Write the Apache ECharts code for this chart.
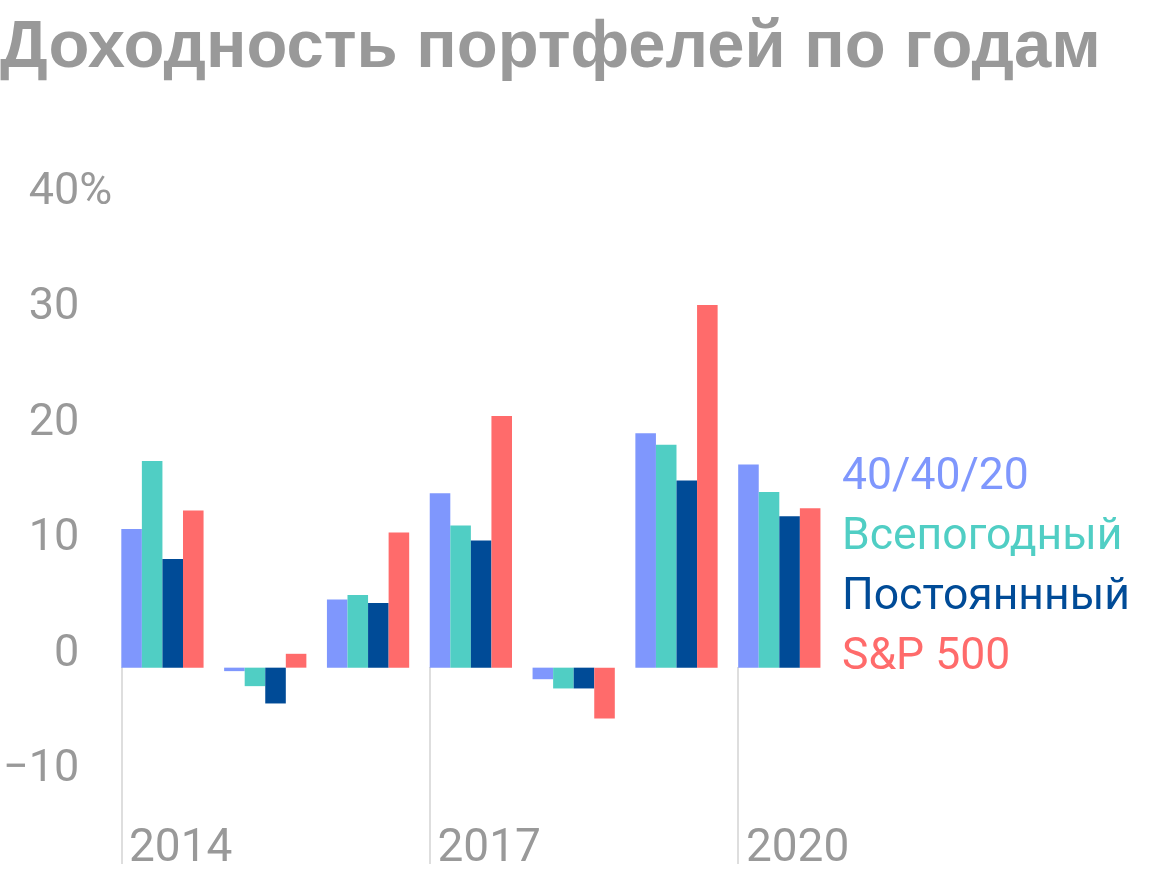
<!DOCTYPE html>
<html>
<head>
<meta charset="utf-8">
<script src="https://cdn.jsdelivr.net/npm/echarts@6/dist/echarts.min.js"></script>
<style>
  html, body { margin: 0; padding: 0; background: #fff; }
  #chart { width: 1160px; height: 880px; }
</style>
</head>
<body>
<div id="chart"></div>
<script>
// данные: доходность по годам, %
var years = ['2014', '2015', '2016', '2017', '2018', '2019', '2020'];
var p404020 = [12.0, -0.3, 5.9, 15.1, -1.0, 20.3, 17.6];
var allWeather = [17.9, -1.6, 6.3, 12.3, -1.8, 19.3, 15.2];
var permanent = [9.4, -3.1, 5.6, 11.0, -1.8, 16.2, 13.1];
var sp500 = [13.6, 1.2, 11.7, 21.8, -4.4, 31.4, 13.8];
var yTicks = [-10, 0, 10, 20, 30, 40];

var names = ['40/40/20', 'Всепогодный', 'Постояннный', 'S&P 500'];
var colors = ['#7f97fd', '#50cec4', '#004b97', '#ff6b6b'];
var values = [p404020, allWeather, permanent, sp500];

var font = 'Roboto';
var gray = '#999999';

// подписи и линии только у каждого третьего года
var showYear = function (index) { return index % 3 === 0; };
var yearMarks = years.map(function (y, i) { return i; }).filter(showYear);

var series = names.map(function (n, i) {
    return {
        name: n,
        type: 'bar',
        data: values[i],
        barGap: '0%',
        barCategoryGap: '0%',
        itemStyle: { color: colors[i] }
    };
});
// пустой столбец-отступ, чтобы группа начиналась у линии года
series.push({
    name: 'spacer',
    type: 'bar',
    data: years.map(function () { return null; }),
    barGap: '0%',
    barCategoryGap: '0%'
});

var option = {
    animation: false,
    title: {
        text: 'Доходность портфелей по годам',
        left: 0,
        top: 15,
        padding: 0,
        textStyle: {
            fontFamily: 'Liberation Sans',
            fontWeight: 'bold',
            fontSize: 67,
            color: gray
        }
    },
    legend: {
        orient: 'vertical',
        left: 837,
        top: 448,
        padding: 0,
        itemGap: 0,
        itemWidth: 0,
        itemHeight: 0,
        icon: 'rect',
        selectedMode: false,
        data: names.map(function (n, i) {
            return { name: n, textStyle: { color: colors[i] } };
        }),
        textStyle: { fontFamily: font, fontSize: 44.5, lineHeight: 60 }
    },
    grid: {
        left: 120,
        width: 721,
        top: 205.7,
        bottom: 16
    },
    xAxis: [{
        type: 'category',
        data: years,
        axisLine: { show: false, onZero: false },
        axisTick: { show: false },
        axisLabel: {
            inside: true,
            interval: showYear,
            margin: 0,
            color: gray,
            fontFamily: font,
            fontSize: 46,
            lineHeight: 30,
            padding: [0, 0, 0, 16]
        },
        splitLine: { show: false }
    }, {
        // вспомогательная ось для вертикальных линий у годов
        type: 'value',
        min: 0,
        max: years.length,
        position: 'bottom',
        axisLine: { show: false, onZero: false },
        axisLabel: { show: false },
        splitLine: { show: false },
        axisTick: {
            show: true,
            inside: true,
            customValues: yearMarks,
            length: 197,
            lineStyle: { color: '#dedede', width: 2 }
        }
    }],
    yAxis: [{
        type: 'value',
        min: -17,
        max: 40,
        axisLine: { show: false },
        axisTick: { show: false },
        splitLine: { show: false },
        axisLabel: {
            customValues: yTicks,
            margin: 42,
            color: gray,
            fontFamily: font,
            fontSize: 45,
            lineHeight: 26,
            verticalAlign: 'bottom',
            formatter: function (v) {
                return v < 0 ? '\u2212' + Math.abs(v) : String(v);
            }
        }
    }, {
        type: 'value',
        min: -17,
        max: 40,
        position: 'left',
        axisLine: { show: false },
        axisTick: { show: false },
        splitLine: { show: false },
        axisLabel: {
            customValues: [40],
            margin: 42,
            align: 'left',
            color: gray,
            fontFamily: font,
            fontSize: 45,
            lineHeight: 26,
            verticalAlign: 'bottom',
            formatter: function () { return '%'; }
        }
    }],
    series: series
};

var chart = echarts.init(document.getElementById('chart'));
chart.setOption(option);
</script>
</body>
</html>
